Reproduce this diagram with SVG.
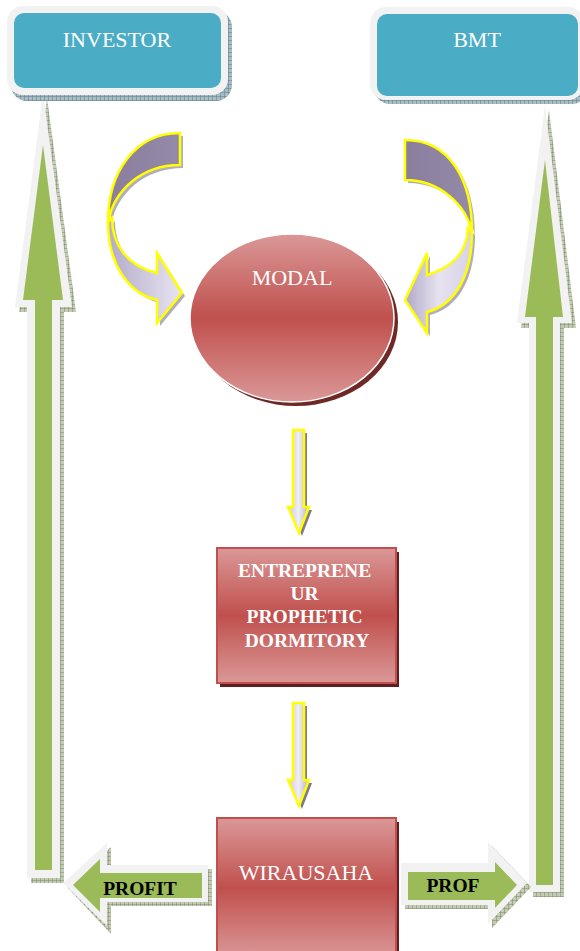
<svg xmlns="http://www.w3.org/2000/svg" width="580" height="951" viewBox="0 0 580 951">
  <style>
    .label { font-family: "Liberation Serif", "Times New Roman", serif; fill: #ffffff; text-anchor: middle; }
    .bold { font-weight: bold; }
    .dark { fill: #000000; }
    .halo { fill: #f2f2f2; }
    .leaf { fill: #9bbb59; }
    .hatchG { fill: url(#hatchG); }
    .hatchB { fill: url(#hatchB); }
    .curl { stroke: #ffff00; stroke-width: 2.5; stroke-linejoin: miter; }
    .drop { fill: #8e8aa0; opacity: 0.7; }
  </style>
  <defs>
    <pattern id="hatchG" width="4" height="4" patternUnits="userSpaceOnUse">
      <rect width="4" height="4" fill="#c3cbb4"/>
      <path d="M0,0H4M0,0V4" stroke="#6e7b58" stroke-width="0.8"/>
    </pattern>
    <pattern id="hatchB" width="4" height="4" patternUnits="userSpaceOnUse">
      <rect width="4" height="4" fill="#a7bcc4"/>
      <path d="M0,0H4M0,0V4" stroke="#4c6d7a" stroke-width="0.8"/>
    </pattern>
    <linearGradient id="redV" x1="0" y1="0" x2="0" y2="1">
      <stop offset="0" stop-color="#da9897"/>
      <stop offset="0.5" stop-color="#c0504d"/>
      <stop offset="1" stop-color="#da9897"/>
    </linearGradient>
    <linearGradient id="backBand" x1="0" y1="0" x2="1" y2="0">
      <stop offset="0" stop-color="#8a7d9e"/>
      <stop offset="1" stop-color="#958aa8"/>
    </linearGradient>
    <linearGradient id="frontL" x1="0" y1="0" x2="1" y2="0">
      <stop offset="0" stop-color="#b3abc9"/>
      <stop offset="1" stop-color="#e9e5f1"/>
    </linearGradient>
    <linearGradient id="frontR" x1="1" y1="0" x2="0" y2="0">
      <stop offset="0" stop-color="#d8d3e6"/>
      <stop offset="0.5" stop-color="#e6e2ef"/>
      <stop offset="1" stop-color="#b0a8c8"/>
    </linearGradient>
    <linearGradient id="shaft" x1="0" y1="0" x2="1" y2="0">
      <stop offset="0" stop-color="#cfc9df"/>
      <stop offset="0.5" stop-color="#efedf5"/>
      <stop offset="1" stop-color="#b8b0cc"/>
    </linearGradient>
    <!-- band outlines of the two curved arrows, reused for their drop shadows -->
    <path id="backL" d="M180,133 C135,133 108,172 108,222 C114,190 142,165 180,165 Z"/>
    <path id="frontLp" d="M108,222 C108,266 130,294 157,300 L157,323 L182,293 L157,253 L157,273 C125,266 112,242 112,218 Z"/>
    <path id="backR" d="M405,140 C450,140 472,180 472,232 C466,205 440,180 405,180 Z"/>
    <path id="frontRp" d="M472,232 C472,276 455,305 427,312 L427,333 L405,300 L427,253 L427,275 C450,268 467,255 468,228 Z"/>
  </defs>

  <g id="connectors">
    <!-- green return arrow up to INVESTOR -->
    <g id="up-left">
      <polygon class="hatchG" points="47,98 76,312 64,312 64,883 31,883 31,312 19,312"/>
      <polygon class="halo" points="43,93 72,307 60,307 60,878 27,878 27,307 15,307"/>
      <polygon class="leaf" points="43,145 63,300 52,300 52,870 35,870 35,300 23,300"/>
    </g>
    <!-- green return arrow up to BMT -->
    <g id="up-right">
      <polygon class="hatchG" points="549,110 576,328 564,328 564,897 533,897 533,328 521,328"/>
      <polygon class="halo" points="545,105 572,323 560,323 560,892 529,892 529,323 517,323"/>
      <polygon class="leaf" points="545,160 563,317 553,317 553,885 536,885 536,317 525,317"/>
    </g>

    <!-- curved arrow INVESTOR -> MODAL -->
    <g id="curl-left">
      <use href="#backL" class="drop" transform="translate(3,3)"/>
      <use href="#frontLp" class="drop" transform="translate(3,3)"/>
      <use href="#backL" class="curl" fill="url(#backBand)"/>
      <use href="#frontLp" class="curl" fill="url(#frontL)"/>
    </g>
    <!-- curved arrow BMT -> MODAL -->
    <g id="curl-right">
      <use href="#backR" class="drop" transform="translate(3,3)"/>
      <use href="#frontRp" class="drop" transform="translate(3,3)"/>
      <use href="#backR" class="curl" fill="url(#backBand)"/>
      <use href="#frontRp" class="curl" fill="url(#frontR)"/>
    </g>

    <!-- MODAL -> ENTREPRENEUR PROPHETIC DORMITORY -->
    <g id="down-1">
      <polygon fill="#7f7a8c" points="296,433 307,433 307,510 312,510 302,536 291,510 296,510"/>
      <polygon class="curl" fill="url(#shaft)" points="293,430 304,430 304,507 309,507 299,533 288,507 293,507"/>
    </g>
    <!-- ENTREPRENEUR PROPHETIC DORMITORY -> WIRAUSAHA -->
    <g id="down-2">
      <polygon fill="#7f7a8c" points="296,706 307,706 307,783 312,783 302,809 291,783 296,783"/>
      <polygon class="curl" fill="url(#shaft)" points="293,703 304,703 304,780 309,780 299,806 288,780 293,780"/>
    </g>

    <!-- profit flowing out of WIRAUSAHA -->
    <g id="profit-left">
      <polygon class="hatchG" points="67,887 111,847 111,869 212,869 212,906 111,906 111,934"/>
      <polygon class="halo" points="63,883 107,843 107,865 208,865 208,902 107,902 107,926"/>
      <polygon class="leaf" points="73,885 100,859 100,873 202,873 202,898 100,898 100,912"/>
      <text class="label bold dark" x="140" y="895" font-size="19.5">PROFIT</text>
    </g>
    <g id="profit-right">
      <polygon class="hatchG" points="405,867 492,867 492,846 531,887 492,928 492,909 405,909"/>
      <polygon class="halo" points="401,863 488,863 488,842 527,883 488,924 488,905 401,905"/>
      <polygon class="leaf" points="408,872 495,872 495,862 517,885 495,908 495,900 408,900"/>
      <text class="label bold dark" x="453" y="892" font-size="19.5">PROF</text>
    </g>
  </g>

  <g id="investor">
    <rect class="hatchB" x="11" y="11" width="221" height="90" rx="16"/>
    <rect class="halo" x="7" y="6" width="221" height="89" rx="16"/>
    <rect x="14" y="13" width="207" height="75" rx="10" fill="#4bacc6"/>
    <text class="label" x="117" y="47" font-size="22">INVESTOR</text>
  </g>

  <g id="bmt">
    <rect class="hatchB" x="374" y="12" width="214" height="92" rx="16"/>
    <rect class="halo" x="370" y="7" width="214" height="93" rx="16"/>
    <rect x="377" y="14" width="201" height="82" rx="10" fill="#4bacc6"/>
    <text class="label" x="477" y="47" font-size="22">BMT</text>
  </g>

  <g id="modal">
    <ellipse cx="296" cy="322" rx="102" ry="84" fill="#6e2826"/>
    <ellipse cx="292" cy="318" rx="102" ry="84" fill="url(#redV)" stroke="#ffffff" stroke-width="1.5"/>
    <text class="label" x="292" y="285" font-size="22">MODAL</text>
  </g>

  <g id="entrepreneur">
    <rect x="220" y="552" width="179" height="135" fill="#5e1f1e"/>
    <rect x="217" y="548" width="179" height="135" fill="url(#redV)" stroke="#c0504d" stroke-width="2"/>
    <text class="label bold" font-size="19.5">
      <tspan x="307" y="577">ENTREPRENE</tspan>
      <tspan x="307" y="600">UR</tspan>
      <tspan x="307" y="623">PROPHETIC</tspan>
      <tspan x="307" y="647">DORMITORY</tspan>
    </text>
  </g>

  <g id="wirausaha">
    <rect x="220" y="822" width="179" height="140" fill="#5e1f1e"/>
    <rect x="217" y="818" width="179" height="140" fill="url(#redV)" stroke="#c0504d" stroke-width="2"/>
    <text class="label" x="306" y="880" font-size="22">WIRAUSAHA</text>
  </g>
</svg>
